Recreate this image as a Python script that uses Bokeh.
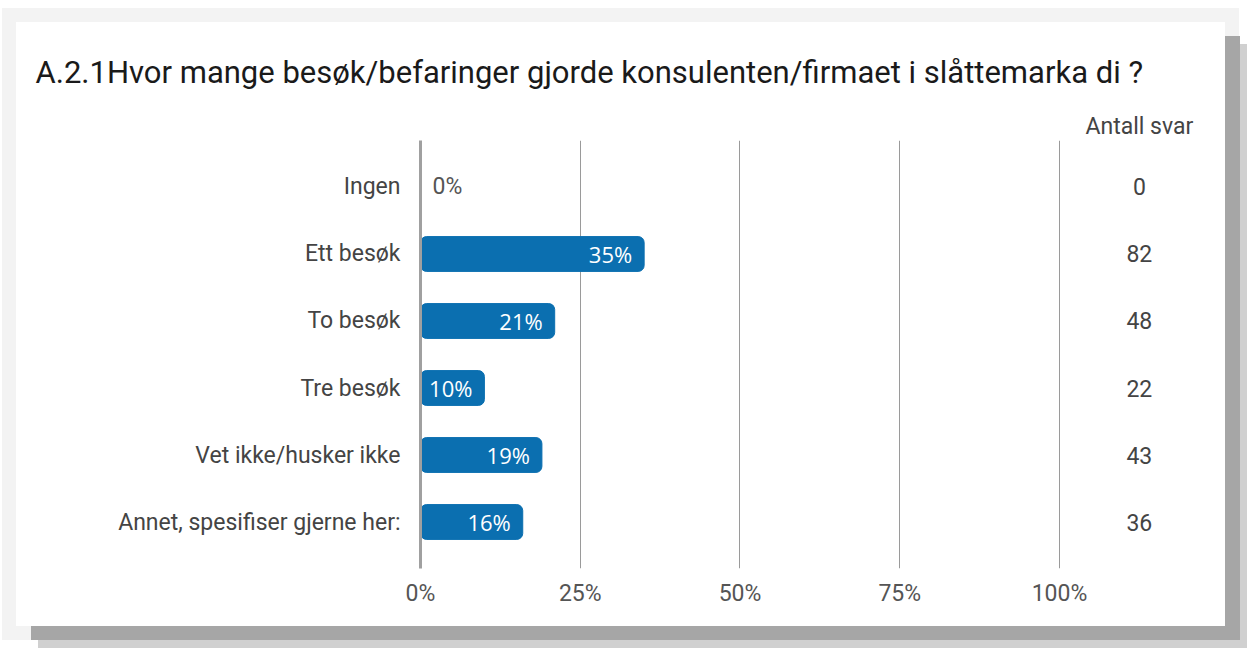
from bokeh.plotting import figure
from bokeh.models import (ColumnDataSource, FactorRange, Range1d, FixedTicker,
                          LinearAxis, Title)
from bokeh.core.properties import value
from bokeh.embed import file_html
from bokeh.resources import INLINE

# ---- data ----
title_text = "A.2.1Hvor mange besøk/befaringer gjorde konsulenten/firmaet i slåttemarka di ?"
categories = ["Ingen", "Ett besøk", "To besøk", "Tre besøk",
              "Vet ikke/husker ikke", "Annet, spesifiser gjerne her:"]
percent = [0, 35, 21, 10, 19, 16]
pct_labels = ["0%", "35%", "21%", "10%", "19%", "16%"]
counts = [0, 82, 48, 22, 43, 36]
count_header = "Antall svar"
x_ticks = [0, 25, 50, 75, 100]
x_tick_labels = ["0%", "25%", "50%", "75%", "100%"]
count_col_x = 112.5

BAR = "#0b6fb0"
FONT = "Roboto"

p = figure(width=1209, height=604, output_backend="svg", toolbar_location=None,
           y_range=FactorRange(factors=categories[::-1], range_padding=0.194,
                               range_padding_units="absolute"),
           x_range=Range1d(0, 125.98),
           min_border_left=404, min_border_right=0, min_border_top=118,
           min_border_bottom=58)
p.styles = {"margin-left": "16px", "margin-top": "22px",
            "box-shadow": "15px 14px 0 0 #a6a6a6, 22px 22px 0 0 #d0d0d0, 0 0 0 14px #f3f3f3"}
p.border_fill_color = "white"
p.background_fill_color = "white"
p.outline_line_color = None

# bottom axis + grid
x_ticker = FixedTicker(ticks=x_ticks)
bx = p.below[0]
bx.ticker = x_ticker
bx.major_label_overrides = {t: l for t, l in zip(x_ticks, x_tick_labels)}
bx.axis_line_color = None
bx.major_tick_line_color = None
bx.minor_tick_line_color = None
bx.major_tick_out = 0
bx.major_label_standoff = 11
bx.major_label_text_font = FONT
bx.major_label_text_font_size = "23px"
bx.major_label_text_color = "#555555"

p.xgrid.ticker = x_ticker
p.xgrid.grid_line_color = "#9a9a9a"
p.xgrid.grid_line_width = 1
p.ygrid.grid_line_color = None

ly = p.left[0]
ly.axis_line_color = "#a0a0a0"
ly.axis_line_width = 3
ly.major_tick_line_color = None
ly.minor_tick_line_color = None
ly.major_tick_out = 0
ly.major_label_standoff = 20
ly.major_label_text_font = FONT
ly.major_label_text_font_size = "23px"
ly.major_label_text_color = "#444444"

src = ColumnDataSource(dict(cat=categories, pct=percent, lab=pct_labels, n=counts,
                            nx=[count_col_x] * len(categories)))
p.hbar(y="cat", right="pct", left=0, height=0.52, source=src,
       fill_color=BAR, line_color=BAR, border_radius=6)

inside = ColumnDataSource(dict(cat=[c for c, v in zip(categories, percent) if v > 0],
                               pct=[v for v in percent if v > 0],
                               lab=[l for l, v in zip(pct_labels, percent) if v > 0]))
outside = ColumnDataSource(dict(cat=[c for c, v in zip(categories, percent) if v == 0],
                                pct=[v for v in percent if v == 0],
                                lab=[l for l, v in zip(pct_labels, percent) if v == 0]))
p.text(x="pct", y="cat", text="lab", source=inside, x_offset=-12,
       text_align="right", text_baseline="middle", text_color="white",
       text_font=value("Open Sans"), text_font_size="22px")
p.text(x="pct", y="cat", text="lab", source=outside, x_offset=12,
       text_align="left", text_baseline="middle", text_color="#555555",
       text_font=value(FONT), text_font_size="23px")
p.text(x="nx", y="cat", text="n", source=src, text_align="center",
       text_baseline="middle", text_color="#444444",
       text_font=value(FONT), text_font_size="23px")

# header of the count column, as a top axis with a single tick
top = LinearAxis(ticker=FixedTicker(ticks=[count_col_x]),
                 major_label_overrides={count_col_x: count_header})
top.axis_line_color = None
top.major_tick_line_color = None
top.minor_tick_line_color = None
top.major_tick_out = 0
top.major_label_standoff = 1
top.major_label_text_font = FONT
top.major_label_text_font_size = "23px"
top.major_label_text_color = "#444444"
p.add_layout(top, "above")

p.title = Title(text=title_text, align="left", offset=-385, standoff=37,
                text_font=FONT, text_font_size="31px", text_font_style="normal",
                text_color="#1a1a1a")

open("out.html", "w").write(file_html(p, INLINE))
